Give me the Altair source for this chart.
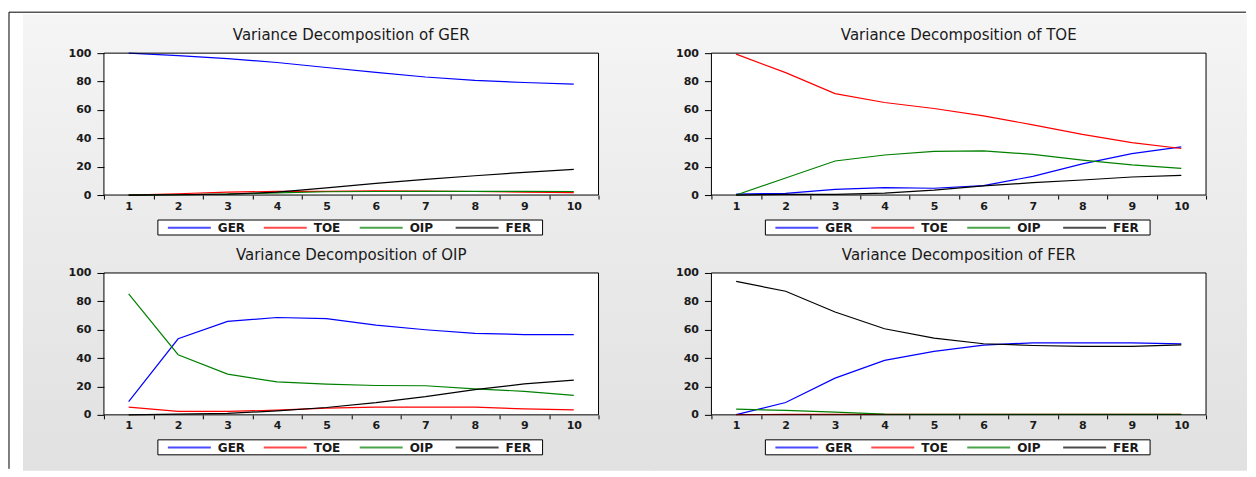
import altair as alt
import pandas as pd

# ---------------- data ----------------
horizons = [1, 2, 3, 4, 5, 6, 7, 8, 9, 10]
series_names = ["GER", "TOE", "OIP", "FER"]
series_colors = ["#0000ff", "#ff0000", "#008000", "#000000"]
y_ticks = [0, 20, 40, 60, 80, 100]

panel_titles = [
    "Variance Decomposition of GER",
    "Variance Decomposition of TOE",
    "Variance Decomposition of OIP",
    "Variance Decomposition of FER",
]

# Variance decomposition of GER
ger_by_ger = [100.0, 98.3, 96.2, 93.4, 89.9, 86.4, 83.2, 80.8, 79.3, 78.1]
ger_by_toe = [0.0, 0.9, 2.0, 2.6, 2.6, 2.9, 2.8, 2.5, 2.0, 1.7]
ger_by_oip = [0.0, 0.2, 0.6, 1.5, 2.3, 2.5, 2.6, 2.6, 2.6, 2.5]
ger_by_fer = [0.0, 0.2, 0.7, 2.0, 5.0, 8.2, 11.0, 13.6, 16.0, 18.1]

# Variance decomposition of TOE
toe_by_ger = [0.7, 1.2, 4.0, 5.2, 4.8, 6.6, 13.2, 22.0, 29.2, 33.9]
toe_by_toe = [99.3, 86.3, 71.5, 65.2, 61.0, 55.8, 49.5, 42.8, 37.0, 32.8]
toe_by_oip = [0.0, 12.0, 24.0, 28.2, 30.8, 31.1, 28.7, 24.6, 21.2, 18.8]
toe_by_fer = [0.0, 0.5, 0.5, 1.4, 3.4, 6.4, 8.7, 10.6, 12.7, 13.9]

# Variance decomposition of OIP
oip_by_ger = [9.4, 53.6, 65.9, 68.6, 67.8, 63.2, 60.0, 57.4, 56.6, 56.6]
oip_by_toe = [5.4, 2.4, 2.4, 3.3, 4.7, 5.4, 5.4, 5.4, 4.2, 3.5]
oip_by_oip = [85.2, 42.4, 28.7, 23.2, 21.6, 20.7, 20.5, 18.3, 16.6, 13.7]
oip_by_fer = [0.0, 0.5, 1.0, 2.8, 5.2, 8.6, 12.8, 17.8, 21.8, 24.5]

# Variance decomposition of FER
fer_by_ger = [0.2, 8.7, 25.9, 38.4, 44.7, 49.2, 50.8, 50.8, 50.8, 50.0]
fer_by_toe = [0.2, 0.3, 0.3, 0.3, 0.3, 0.3, 0.3, 0.3, 0.3, 0.3]
fer_by_oip = [4.0, 3.1, 1.9, 0.5, 0.3, 0.3, 0.3, 0.3, 0.3, 0.3]
fer_by_fer = [94.1, 87.1, 72.5, 60.7, 54.1, 50.1, 48.9, 48.2, 48.2, 49.3]

panel_series = [
    [ger_by_ger, ger_by_toe, ger_by_oip, ger_by_fer],
    [toe_by_ger, toe_by_toe, toe_by_oip, toe_by_fer],
    [oip_by_ger, oip_by_toe, oip_by_oip, oip_by_fer],
    [fer_by_ger, fer_by_toe, fer_by_oip, fer_by_fer],
]

# ---------------- layout ----------------
W, H = 495, 142
FONT = "DejaVu Sans"
TXT = "#1a1a1a"
one = pd.DataFrame({"k": [0]})


def make_df(cols):
    rows = []
    for name, vals in zip(series_names, cols):
        for h, v in zip(horizons, vals):
            rows.append({"h": h, "series": name, "value": v})
    return pd.DataFrame(rows)


def grad(c0, c1):
    return alt.Gradient(
        gradient="linear",
        stops=[alt.GradientStop(color=c0, offset=0), alt.GradientStop(color=c1, offset=1)],
        x1=0, x2=0, y1=0, y2=1,
    )


def panel(title, cols, box, colors, frame=False):
    df = make_df(cols)
    bx0, bx1, by0, by1 = box
    bg = alt.Chart(one).mark_rect(fill=grad(*colors), strokeWidth=0).encode(
        x=alt.value(bx0), x2=alt.value(bx1), y=alt.value(by0), y2=alt.value(by1)
    )
    plotbg = alt.Chart(one).mark_rect(fill="white", strokeWidth=0).encode(
        x=alt.value(0), x2=alt.value(W), y=alt.value(0), y2=alt.value(H)
    )
    legbox = alt.Chart(one).mark_rect(fill="white", stroke="black", strokeWidth=1).encode(
        x=alt.value(54), x2=alt.value(439), y=alt.value(167), y2=alt.value(182)
    )
    lines = alt.Chart(df).mark_line(strokeWidth=1.2).encode(
        x=alt.X(
            "h:O",
            bandPosition=0.5,
            scale=alt.Scale(type="band", paddingInner=0, paddingOuter=0),
            axis=alt.Axis(
                title=None, labelAngle=0, tickBand="extent", tickSize=4, labelPadding=1,
                domain=False, grid=False, labelFont=FONT, labelFontSize=11,
                labelFontWeight="bold", labelColor=TXT, tickColor="black", zindex=1,
            ),
        ),
        y=alt.Y(
            "value:Q",
            scale=alt.Scale(domain=[0, 100], nice=False),
            axis=alt.Axis(
                title=None, values=y_ticks, format="d", tickSize=7, labelPadding=6,
                domain=False, grid=False, labelFont=FONT, labelFontSize=11,
                labelFontWeight="bold", labelColor=TXT, tickColor="black",
                labelFlush=False, labelOverlap=False, zindex=1,
            ),
        ),
        color=alt.Color(
            "series:N",
            sort=series_names,
            scale=alt.Scale(domain=series_names, range=series_colors),
            legend=alt.Legend(
                title=None, orient="none", legendX=63, legendY=152,
                direction="horizontal", columns=4, gridAlign="all",
                columnPadding=14, padding=0, symbolType="stroke", symbolSize=1849,
                symbolStrokeWidth=2, symbolOpacity=0.7, labelOffset=6,
                labelFont=FONT, labelFontSize=12, labelFontWeight="bold",
                labelColor=TXT, zindex=1,
            ),
        ),
    )
    border = alt.Chart(one).mark_rect(fill="transparent", stroke="black", strokeWidth=1).encode(
        x=alt.value(0), x2=alt.value(W), y=alt.value(0), y2=alt.value(H)
    )
    ttl = alt.Chart(pd.DataFrame({"t": [title]})).mark_text(
        font=FONT, fontSize=15, align="center", baseline="middle", color=TXT
    ).encode(x=alt.value(W / 2), y=alt.value(-18), text="t:N")
    layers = [bg, plotbg, legbox, lines, border, ttl]
    if frame:
        top_rule = alt.Chart(one).mark_rule(color="black", strokeWidth=1).encode(
            x=alt.value(-95), x2=alt.value(1143), y=alt.value(-41)
        )
        left_rule = alt.Chart(one).mark_rule(color="black", strokeWidth=1).encode(
            x=alt.value(-95), y=alt.value(-41), y2=alt.value(416)
        )
        layers += [top_rule, left_rule]
    return alt.layer(*layers).properties(width=W, height=H)


p1 = panel(panel_titles[0], panel_series[0], (-81, 553, -39, 192), ("#f5f5f5", "#eaeaea"), frame=True)
p2 = panel(panel_titles[1], panel_series[1], (-58, 536, -39, 192), ("#f5f5f5", "#eaeaea"))
p3 = panel(panel_titles[2], panel_series[2], (-81, 553, -29, 198), ("#eaeaea", "#e1e1e1"))
p4 = panel(panel_titles[3], panel_series[3], (-58, 536, -29, 198), ("#eaeaea", "#e1e1e1"))

chart = (
    alt.concat(p1, p2, p3, p4, columns=2, spacing={"row": 78, "column": 113}, bounds="flush")
    .resolve_scale(x="independent", y="independent", color="independent")
    .resolve_legend(color="independent")
    .properties(padding={"left": 0, "top": 3, "right": 0, "bottom": 0})
    .configure_view(strokeWidth=0)
    .configure(background="white")
)

chart.save("out.html", embed_options={"renderer": "svg", "actions": False})
